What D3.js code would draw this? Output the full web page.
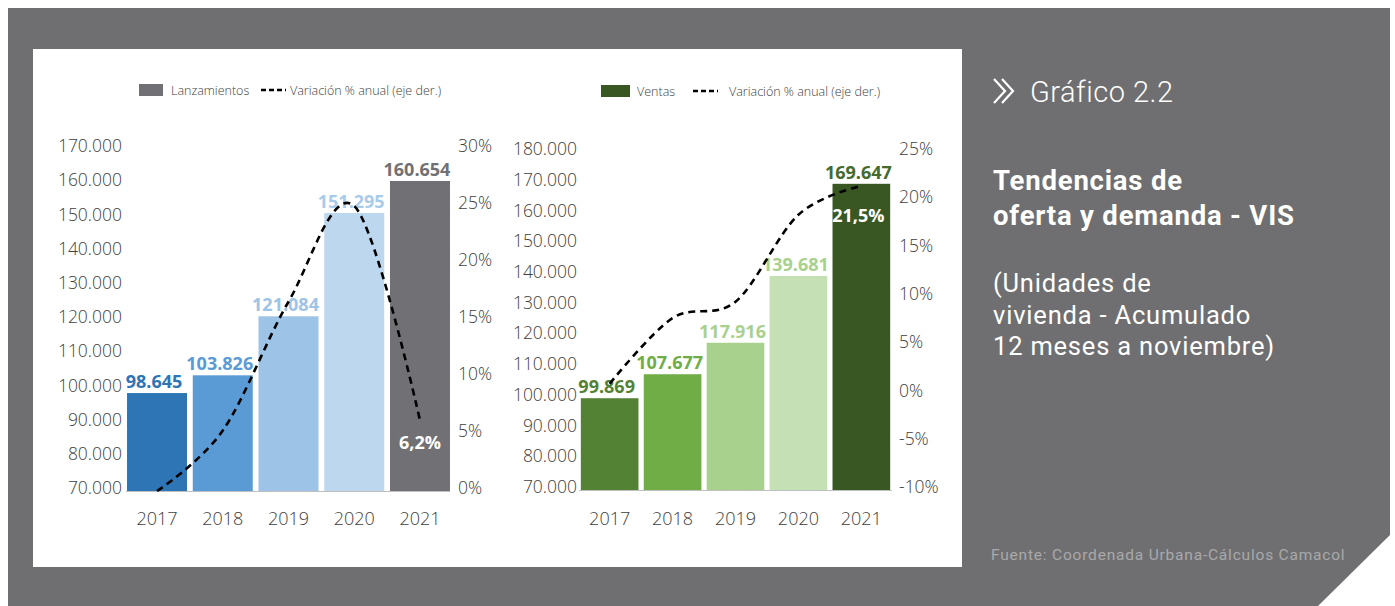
<!DOCTYPE html>
<html>
<head>
<meta charset="utf-8">
<script src="https://cdn.jsdelivr.net/npm/d3@7"></script>
<style>
  html, body { margin: 0; padding: 0; background: #ffffff; }
  svg { display: block; }
  .chart text { font-family: "Open Sans", "Noto Sans", sans-serif; }
  .side text { font-family: Roboto, "Noto Sans", sans-serif; }
</style>
</head>
<body>
<svg id="fig" width="1395" height="606"></svg>
<script>
// ---- data ----
const years = ["2017", "2018", "2019", "2020", "2021"];

const lanzamientos = [98645, 103826, 121084, 151295, 160654];
const lanzamientosVar = [0.0, 5.3, 16.6, 25.0, 6.2];

const ventas = [99869, 107677, 117916, 139681, 169647];
const ventasVar = [1.0, 7.8, 9.5, 18.5, 21.5];

const leftTicks = [70000, 80000, 90000, 100000, 110000, 120000, 130000, 140000, 150000, 160000, 170000];
const leftPctTicks = [0, 5, 10, 15, 20, 25, 30];
const rightTicks = [70000, 80000, 90000, 100000, 110000, 120000, 130000, 140000, 150000, 160000, 170000, 180000];
const rightPctTicks = [-10, -5, 0, 5, 10, 15, 20, 25];

// ---- colours ----
const lanzColors = ["#2e75b6", "#5b9bd5", "#9dc3e6", "#bdd7ee", "#717175"];
const lanzLabelColors = ["#2e75b6", "#5b9bd5", "#9dc3e6", "#a9cbea", "#717175"];
const ventasColors = ["#548235", "#70ad47", "#a9d18e", "#c5e0b4", "#385723"];
const ventasLabelColors = ["#548235", "#70ad47", "#a9d18e", "#a9d18e", "#446a2c"];

const locale = d3.formatLocale({ decimal: ",", thousands: ".", grouping: [3], currency: ["$", ""] });
const fmtInt = locale.format(",d");
const fmtPct1 = v => locale.format(".1f")(v) + "%";
const fmtPct0 = v => v + "%";

const svg = d3.select("#fig");

// ---- frame ----
svg.append("polygon")
  .attr("points", "8,8 1390,8 1390,535 1318,606 8,606")
  .attr("fill", "#6f6f71");
svg.append("rect")
  .attr("x", 33).attr("y", 49).attr("width", 929).attr("height", 518)
  .attr("fill", "#ffffff");

// ---- generic combo chart: bars on the left axis, variation line on the right axis ----
function comboChart(cfg) {
  const g = svg.append("g").attr("class", "chart");

  const x = d3.scaleBand().domain(years).range(cfg.xRange)
    .paddingInner(cfg.padIn).paddingOuter(cfg.padOut);
  const y = d3.scaleLinear().domain(cfg.yDomain).range(cfg.yRange);
  const p = d3.scaleLinear().domain(cfg.pDomain).range(cfg.yRange);

  // left value axis
  const axL = g.append("g")
    .attr("transform", `translate(${cfg.xRange[0]},0)`)
    .call(d3.axisLeft(y).tickValues(cfg.yTicks).tickFormat(fmtInt).tickSize(0).tickPadding(cfg.leftPad));
  axL.select(".domain").remove();
  axL.selectAll("text")
    .attr("font-size", 17.5).attr("font-weight", 300).attr("fill", "#404040")
    .attr("dy", "0.32em").attr("y", -3)
    .style("font-family", '"Open Sans", sans-serif');

  // right percentage axis
  const axR = g.append("g")
    .attr("transform", `translate(${cfg.xRange[1]},0)`)
    .call(d3.axisRight(p).tickValues(cfg.pTicks).tickFormat(fmtPct0).tickSize(0).tickPadding(cfg.rightPad));
  axR.select(".domain").remove();
  axR.selectAll("text")
    .attr("font-size", 17.5).attr("font-weight", 300).attr("fill", "#404040")
    .attr("dy", "0.32em").attr("y", -3)
    .style("font-family", '"Open Sans", sans-serif');

  // bars
  g.append("g").selectAll("rect")
    .data(cfg.values)
    .join("rect")
    .attr("x", (d, i) => x(years[i]))
    .attr("y", d => y(d))
    .attr("width", x.bandwidth())
    .attr("height", d => y(cfg.yDomain[0]) - y(d))
    .attr("fill", (d, i) => cfg.colors[i]);

  // category axis
  const axB = g.append("g")
    .attr("transform", `translate(0,${cfg.yRange[0]})`)
    .call(d3.axisBottom(x).tickSize(0).tickPadding(cfg.bottomPad));
  axB.select(".domain").attr("stroke", "#bfbfbf").attr("stroke-width", 1.2)
    .attr("d", `M${cfg.axisSpan[0]},0.5H${cfg.axisSpan[1]}`);
  axB.selectAll("text")
    .attr("font-size", 18).attr("font-weight", 300).attr("fill", "#404040")
    .style("font-family", '"Open Sans", sans-serif');

  // value labels
  g.append("g").selectAll("text")
    .data(cfg.values)
    .join("text")
    .attr("x", (d, i) => x(years[i]) + x.bandwidth() / 2 - 3)
    .attr("y", d => y(d) - 5)
    .attr("text-anchor", "middle")
    .attr("font-size", 18).attr("font-weight", 700)
    .attr("fill", (d, i) => cfg.labelColors[i])
    .text(d => fmtInt(d));

  // variation line
  const line = d3.line()
    .x((d, i) => x(years[i]) + x.bandwidth() / 2)
    .y(d => p(d))
    .curve(d3.curveCatmullRom.alpha(0));
  g.append("path")
    .datum(cfg.pct)
    .attr("d", line)
    .attr("fill", "none")
    .attr("stroke", "#000000")
    .attr("stroke-width", 2.6)
    .attr("stroke-dasharray", "7,5");

  // last variation value
  const last = cfg.pct.length - 1;
  g.append("text")
    .attr("x", x(years[last]) + x.bandwidth() / 2 + cfg.pctLabelDx)
    .attr("y", p(cfg.pct[last]) + cfg.pctLabelDy)
    .attr("text-anchor", "middle")
    .attr("font-size", 18).attr("font-weight", 700)
    .attr("fill", "#ffffff")
    .text(fmtPct1(cfg.pct[last]));

  // legend
  const lg = g.append("g");
  lg.append("rect")
    .attr("x", cfg.legend.rx).attr("y", cfg.legend.y - 6)
    .attr("width", cfg.legend.rw).attr("height", 12)
    .attr("fill", cfg.legend.color);
  lg.append("text")
    .attr("x", cfg.legend.tx).attr("y", cfg.legend.y + 4.5)
    .attr("font-size", 12.5).attr("font-weight", 300).attr("fill", "#404040")
    .text(cfg.legend.name);
  lg.append("line")
    .attr("x1", cfg.legend.lx).attr("x2", cfg.legend.lx + 25)
    .attr("y1", cfg.legend.y).attr("y2", cfg.legend.y)
    .attr("stroke", "#000000").attr("stroke-width", 2.4)
    .attr("stroke-dasharray", "5,3");
  lg.append("text")
    .attr("x", cfg.legend.lt).attr("y", cfg.legend.y + 4.5)
    .attr("font-size", 12.5).attr("font-weight", 300).attr("fill", "#404040")
    .text("Variación % anual (eje der.)");
}

comboChart({
  values: lanzamientos, pct: lanzamientosVar,
  colors: lanzColors, labelColors: lanzLabelColors,
  xRange: [124, 453], padIn: 0.0875, padOut: 0.046,
  axisSpan: [126, 450],
  yDomain: [70000, 170000], yRange: [491, 149], yTicks: leftTicks,
  pDomain: [0, 30], pTicks: leftPctTicks,
  leftPad: 2, rightPad: 5, bottomPad: 21,
  pctLabelDx: 0, pctLabelDy: 29,
  legend: { rx: 139, rw: 24, y: 90, color: "#717175", tx: 171, name: "Lanzamientos", lx: 261, lt: 290 }
});

comboChart({
  values: ventas, pct: ventasVar,
  colors: ventasColors, labelColors: ventasLabelColors,
  xRange: [578, 893], padIn: 0.0837, padOut: 0.045,
  axisSpan: [579, 892],
  yDomain: [70000, 180000], yRange: [490, 152], yTicks: rightTicks,
  pDomain: [-10, 25], pTicks: rightPctTicks,
  leftPad: 1, rightPad: 6, bottomPad: 22,
  pctLabelDx: -3, pctLabelDy: 36,
  legend: { rx: 601, rw: 29, y: 91, color: "#385723", tx: 637, name: "Ventas", lx: 693, lt: 729 }
});

// ---- side panel ----
const side = svg.append("g").attr("class", "side");

side.append("path")
  .attr("d", "M994,79 L1005,91 L994,103 M1002,79 L1013,91 L1002,103")
  .attr("fill", "none").attr("stroke", "#ffffff").attr("stroke-width", 2.2);

side.append("text")
  .attr("x", 1030).attr("y", 102)
  .attr("font-size", 29).attr("font-weight", 300).attr("fill", "#ffffff")
  .attr("letter-spacing", 0.5)
  .text("Gráfico 2.2");

const titleLines = ["Tendencias de", "oferta y demanda - VIS"];
side.append("g").selectAll("text")
  .data(titleLines)
  .join("text")
  .attr("x", 993).attr("y", (d, i) => 190 + i * 35)
  .attr("font-size", 27.5).attr("font-weight", 700).attr("fill", "#ffffff")
  .attr("letter-spacing", 0.8)
  .text(d => d);

const subLines = ["(Unidades de", "vivienda - Acumulado", "12 meses a noviembre)"];
side.append("g").selectAll("text")
  .data(subLines)
  .join("text")
  .attr("x", 993).attr("y", (d, i) => 292 + i * 31.5)
  .attr("font-size", 25.5).attr("font-weight", 400).attr("fill", "#ffffff")
  .attr("letter-spacing", 0.8)
  .text(d => d);

side.append("text")
  .attr("x", 991).attr("y", 560)
  .attr("font-size", 15.5).attr("font-weight", 400).attr("fill", "#a9a9ab")
  .attr("letter-spacing", 0.8)
  .text("Fuente: Coordenada Urbana-Cálculos Camacol");
</script>
</body>
</html>
